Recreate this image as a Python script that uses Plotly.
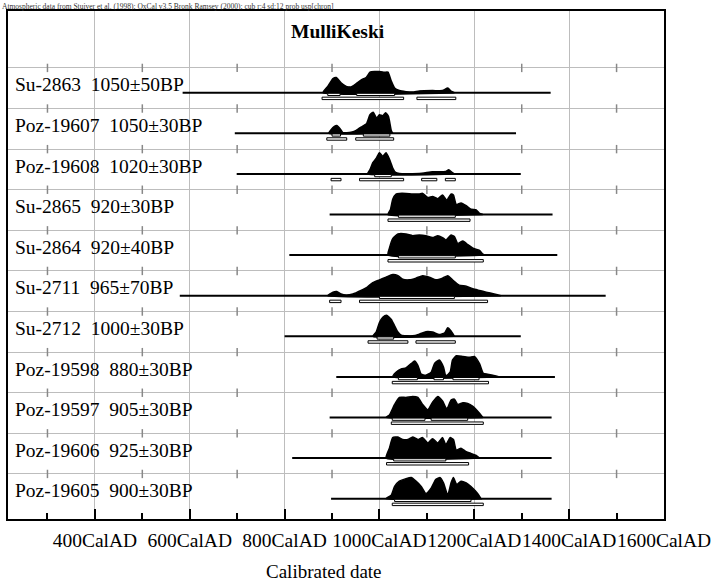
import plotly.graph_objects as go

# ---------------- text ----------------
title_text = "MulliKeski"
header_text = ("Atmospheric data from Stuiver et al. (1998); OxCal v3.5 Bronk Ramsey (2000); "
               "cub r:4 sd:12 prob usp[chron]")
x_title = "Calibrated date"

# ---------------- samples ----------------
sample_names = ["Su-2863", "Poz-19607", "Poz-19608", "Su-2865", "Su-2864", "Su-2711",
                "Su-2712", "Poz-19598", "Poz-19597", "Poz-19606", "Poz-19605"]
bp_labels = ["1050±50BP", "1050±30BP", "1020±30BP", "920±30BP", "920±40BP", "965±70BP",
             "1000±30BP", "880±30BP", "905±30BP", "925±30BP", "900±30BP"]
line_start = [585, 695, 699, 895, 810, 579, 800, 909, 895, 816, 898]
line_end = [1361, 1288, 1298, 1365, 1375, 1477, 1298, 1370, 1363, 1363, 1363]

# ---------------- probability distributions (peak = 1) ----------------
su2863_years = [881, 891, 902, 909, 919, 930, 940, 951, 961, 972, 980, 990, 1000, 1011, 1018,
                1025, 1032, 1042, 1056, 1070, 1084, 1112, 1133, 1144, 1151, 1158]
su2863_prob = [0, 0.3, 0.67, 0.72, 0.47, 0.3, 0.27, 0.43, 0.6, 0.72, 0.97, 1.0, 1.0, 0.97, 0.97,
               0.55, 0.22, 0.1, 0.05, 0.03, 0.08, 0.1, 0.1, 0.22, 0.08, 0]

poz19607_years = [893, 898, 905, 910, 917, 923, 940, 950, 962, 973, 980, 987, 994, 1000, 1007,
                  1013, 1019, 1025, 1028]
poz19607_prob = [0, 0.17, 0.33, 0.37, 0.22, 0.03, 0.05, 0.13, 0.3, 0.47, 0.88, 1.0, 0.72, 0.88,
                 0.83, 0.97, 0.8, 0.13, 0]

poz19608_years = [975, 980, 986, 993, 1000, 1007, 1014, 1021, 1028, 1034, 1042, 1084, 1112, 1140,
                  1146, 1153, 1158]
poz19608_prob = [0, 0.2, 0.53, 0.73, 1.0, 0.83, 1.0, 0.7, 0.28, 0.07, 0.02, 0.02, 0.1, 0.12,
                 0.2, 0.07, 0]

su2865_years = [1018, 1023, 1028, 1035, 1042, 1056, 1070, 1084, 1091, 1102, 1112, 1123, 1133,
                1142, 1151, 1156, 1162, 1172, 1183, 1193, 1204, 1211, 1218]
su2865_prob = [0, 0.22, 0.72, 0.97, 1.0, 1.0, 0.97, 0.97, 1.0, 0.8, 0.85, 0.75, 0.92, 0.68,
               0.97, 0.92, 0.47, 0.55, 0.42, 0.25, 0.22, 0.05, 0]

su2864_years = [1018, 1021, 1028, 1039, 1056, 1070, 1084, 1098, 1112, 1123, 1133, 1140, 1151,
                1158, 1165, 1176, 1186, 1197, 1211, 1218, 1222]
su2864_prob = [0, 0.33, 0.78, 1.0, 1.0, 0.92, 0.95, 0.92, 0.83, 0.92, 0.83, 0.72, 0.95, 0.88,
               0.55, 0.67, 0.5, 0.33, 0.22, 0.05, 0]

su2711_years = [891, 902, 910, 919, 930, 944, 961, 975, 986, 1000, 1014, 1028, 1039, 1049, 1063,
                1077, 1091, 1105, 1119, 1133, 1144, 1154, 1168, 1183, 1197, 1211, 1225, 1242, 1256]
su2711_prob = [0, 0.17, 0.2, 0.08, 0.03, 0.08, 0.25, 0.42, 0.62, 0.75, 0.88, 1.0, 0.95, 0.78,
               0.75, 0.83, 0.95, 0.88, 0.75, 0.83, 0.95, 0.75, 0.5, 0.45, 0.33, 0.25, 0.17, 0.08, 0]

su2712_years = [986, 993, 1000, 1007, 1015, 1025, 1032, 1039, 1046, 1070, 1084, 1098, 1112, 1126,
                1137, 1144, 1151, 1158]
su2712_prob = [0, 0.2, 0.65, 0.9, 1.0, 0.8, 0.5, 0.2, 0.05, 0.02, 0.1, 0.22, 0.2, 0.08, 0.15,
               0.4, 0.25, 0]

poz19598_years = [1028, 1035, 1046, 1056, 1067, 1074, 1081, 1088, 1098, 1109, 1116, 1126, 1135,
                  1140, 1149, 1154, 1162, 1176, 1190, 1200, 1211, 1219, 1228, 1239, 1253]
poz19598_prob = [0, 0.22, 0.38, 0.43, 0.63, 0.75, 0.55, 0.13, 0.08, 0.22, 0.63, 0.8, 0.47, 0.05,
                 0.22, 0.8, 1.0, 0.97, 0.93, 0.97, 0.63, 0.17, 0.13, 0.08, 0]

poz19597_years = [1014, 1021, 1032, 1042, 1056, 1070, 1081, 1091, 1102, 1112, 1123, 1133, 1142,
                  1151, 1158, 1165, 1176, 1186, 1197, 1211, 1218]
poz19597_prob = [0, 0.12, 0.62, 0.95, 0.95, 1.0, 0.95, 0.62, 0.37, 0.73, 1.0, 0.78, 0.4, 0.83,
                 0.87, 0.62, 0.7, 0.67, 0.53, 0.2, 0]

poz19606_years = [1014, 1021, 1028, 1039, 1049, 1060, 1070, 1081, 1091, 1102, 1112, 1123, 1133,
                  1140, 1149, 1156, 1162, 1172, 1183, 1193, 1204, 1211]
poz19606_prob = [0, 0.47, 0.97, 1.0, 0.88, 0.88, 1.0, 0.88, 0.97, 0.72, 0.92, 0.72, 0.97, 0.63,
                 0.97, 0.88, 0.38, 0.47, 0.3, 0.22, 0.13, 0]

poz19605_years = [1014, 1025, 1032, 1042, 1056, 1067, 1077, 1088, 1098, 1109, 1119, 1128, 1135,
                  1144, 1151, 1156, 1163, 1172, 1183, 1193, 1207, 1214]
poz19605_prob = [0, 0.17, 0.58, 0.83, 0.95, 1.0, 0.83, 0.58, 0.25, 0.5, 0.92, 1.0, 0.75, 0.17,
                 0.75, 1.0, 0.67, 0.83, 0.75, 0.58, 0.25, 0]

dist_years = [su2863_years, poz19607_years, poz19608_years, su2865_years, su2864_years,
              su2711_years, su2712_years, poz19598_years, poz19597_years, poz19606_years,
              poz19605_years]
dist_prob = [su2863_prob, poz19607_prob, poz19608_prob, su2865_prob, su2864_prob, su2711_prob,
             su2712_prob, poz19598_prob, poz19597_prob, poz19606_prob, poz19605_prob]

# ---------------- 68.2% and 95.4% ranges (cal AD) ----------------
range68 = [
    [(891, 917), (952, 1032)],
    [(900, 918), (966, 1022)],
    [(990, 1025)],
    [(1040, 1160)],
    [(1040, 1160)],
    [(1000, 1158)],
    [(995, 1030)],
    [(1040, 1080), (1115, 1135), (1155, 1210)],
    [(1027, 1096), (1109, 1186)],
    [(1030, 1140)],
    [(1032, 1193)],
]
range95 = [
    [(879, 1051), (1079, 1161)],
    [(889, 931), (950, 1030)],
    [(898, 919), (958, 1051), (1089, 1121), (1139, 1160)],
    [(1018, 1191)],
    [(1018, 1219)],
    [(895, 919), (958, 1228)],
    [(976, 1060), (1077, 1160)],
    [(1027, 1230)],
    [(1025, 1219)],
    [(1015, 1188)],
    [(1027, 1219)],
]

# ---------------- axis ----------------
tick_years = [400, 600, 800, 1000, 1200, 1400, 1600]
tick_labels = ["400CalAD", "600CalAD", "800CalAD", "1000CalAD", "1200CalAD", "1400CalAD",
               "1600CalAD"]
minor_years = [300, 500, 700, 900, 1100, 1300, 1500]
x_min, x_max = 216.8, 1600
y_min, y_max = -10.5, 2.012

PEAK = 0.52          # peak height in row units
GRID_OFF = 0.61      # horizontal grid line offset above baseline
FONT = "Liberation Serif, Times New Roman, serif"

fig = go.Figure()

grid_y = [-i + GRID_OFF for i in range(len(sample_names))]

# minor tick crosses on horizontal grid lines
mx, my = [], []
for gy in grid_y:
    for yr in minor_years:
        mx.append(yr)
        my.append(gy)
fig.add_trace(go.Scatter(x=mx, y=my, mode="markers", hoverinfo="skip",
                         marker=dict(symbol="line-ns", size=6,
                                     line=dict(width=1.5, color="#888"))))

for i, name in enumerate(sample_names):
    base = -i
    # range line
    fig.add_trace(go.Scatter(x=[line_start[i], line_end[i]], y=[base, base], mode="lines",
                             line=dict(color="black", width=2), hoverinfo="skip"))
    # distribution
    xs = list(dist_years[i])
    ys = [base + p * PEAK for p in dist_prob[i]]
    xs = xs + [xs[-1], xs[0]]
    ys = ys + [base, base]
    fig.add_trace(go.Scatter(x=xs, y=ys, mode="lines", fill="toself", fillcolor="black",
                             line=dict(color="black", width=1.5, shape="spline", smoothing=0.5),
                             hoverinfo="skip"))
    # range bars
    for rng, (y1, y2) in ((range68[i], (-0.015, -0.07)), (range95[i], (-0.11, -0.17))):
        bx, by = [], []
        for a, b in rng:
            bx += [a, b, b, a, a, None]
            by += [base + y1, base + y1, base + y2, base + y2, base + y1, None]
        fig.add_trace(go.Scatter(x=bx, y=by, mode="lines", fill="toself", fillcolor="white",
                                 line=dict(color="black", width=1), hoverinfo="skip"))
    # label
    fig.add_annotation(x=0.0076, xref="paper", y=base + 0.19, yref="y",
                       text=f"{name}\u00a0\u00a0{bp_labels[i]}", showarrow=False,
                       xanchor="left", yanchor="middle",
                       font=dict(family=FONT, size=19.5, color="black"))

fig.add_annotation(x=0.503, xref="paper", y=0.9606, yref="paper", text=f"<b>{title_text}</b>",
                   showarrow=False, xanchor="center", yanchor="middle",
                   font=dict(family=FONT, size=19.5, color="black"))
fig.add_annotation(x=0.4817, xref="paper", y=-0.1043, yref="paper", text=x_title,
                   showarrow=False, xanchor="center", yanchor="middle",
                   font=dict(family=FONT, size=19, color="black"))
fig.add_annotation(x=-0.0122, xref="paper", y=1.0217, yref="paper", text=header_text,
                   showarrow=False, xanchor="left", yanchor="top",
                   font=dict(family=FONT, size=7.5, color="#333"))

fig.update_layout(
    width=713, height=581,
    margin=dict(l=8, r=49, t=11, b=62, autoexpand=False),
    paper_bgcolor="white", plot_bgcolor="white",
    showlegend=False,
    xaxis=dict(range=[x_min, x_max], tickvals=tick_years, ticktext=tick_labels,
               tickangle=0, automargin=False,
               showgrid=True, gridcolor="#bdbdbd", gridwidth=1,
               showline=True, linecolor="black", linewidth=2, mirror=True,
               ticks="inside", ticklen=10, tickwidth=1.5, tickcolor="black",
               ticklabelstandoff=3,
               minor=dict(tickvals=minor_years, ticks="inside", ticklen=6, tickwidth=1.5,
                          tickcolor="black", showgrid=False),
               tickfont=dict(family=FONT, size=19.5, color="black"), zeroline=False),
    yaxis=dict(range=[y_min, y_max], tickvals=grid_y, showticklabels=False, ticks="",
               automargin=False,
               showgrid=True, gridcolor="#bdbdbd", gridwidth=1,
               showline=True, linecolor="black", linewidth=2, mirror=True, zeroline=False),
)

fig.write_html("out.html", config={"displayModeBar": False},
               post_script="document.body.style.margin='0';")
